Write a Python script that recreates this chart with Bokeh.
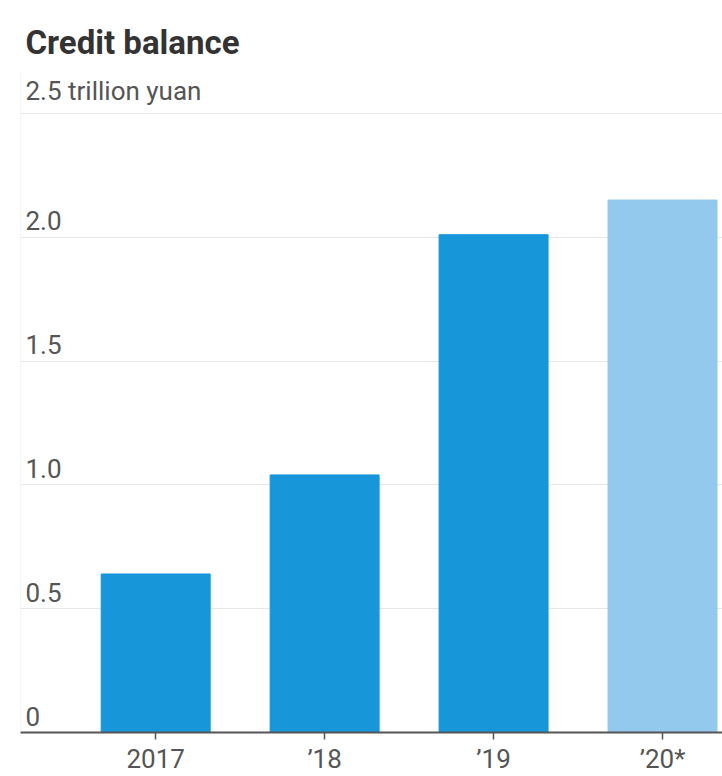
from bokeh.plotting import figure
from bokeh.models import FixedTicker, Title, ColumnDataSource, Span
from bokeh.core.properties import value
from bokeh.embed import file_html
from bokeh.resources import INLINE

categories = ["2017", "’18", "’19", "’20*"]
balance = [0.64, 1.04, 2.01, 2.15]
bar_colors = ["#1796da", "#1796da", "#1796da", "#93c9ec"]
y_ticks = [0, 0.5, 1.0, 1.5, 2.0, 2.5]
y_tick_labels = ["0", "0.5", "1.0", "1.5", "2.0", "2.5 trillion yuan"]

FONT = "Roboto"
xs = list(range(len(categories)))

p = figure(width=722, height=776, output_backend="svg", toolbar_location=None,
           x_range=(-0.8, 3.355), y_range=(0, 2.673),
           min_border_left=20, min_border_right=0, min_border_top=70,
           min_border_bottom=43)
p.background_fill_color = "white"
p.border_fill_color = "white"
p.outline_line_color = None

t = Title(text="Credit balance", align="left", offset=5,
          text_font=FONT, text_font_size="33px", text_font_style="bold",
          text_color="#333333", standoff=18)
p.add_layout(t, "above")

src = ColumnDataSource(dict(x=xs, top=balance, color=bar_colors))
p.vbar(x="x", top="top", width=0.645, bottom=0, color="color", source=src)

# y axis hidden, labels drawn inside plot
p.yaxis.visible = False
p.ygrid.ticker = FixedTicker(ticks=y_ticks[1:])
p.ygrid.grid_line_color = "#e6e6e6"
p.ygrid.grid_line_width = 1
p.xgrid.visible = False

lab = ColumnDataSource(dict(x=[-0.8] * len(y_ticks), y=y_ticks, t=y_tick_labels))
p.text(x="x", y="y", text="t", source=lab, x_offset=5, y_offset=-7,
       text_baseline="bottom", text_align="left", text_color="#555555",
       text_font=value(FONT), text_font_size="26px")

p.add_layout(Span(location=-0.8, dimension="height", line_color="#ececec", line_width=1))

p.xaxis.ticker = FixedTicker(ticks=xs)
p.xaxis.major_label_overrides = {i: c for i, c in enumerate(categories)}
p.xaxis.axis_line_color = "#555555"
p.xaxis.axis_line_width = 2
p.xaxis.major_tick_line_color = "#555555"
p.xaxis.major_tick_line_width = 1.5
p.xaxis.major_tick_out = 7
p.xaxis.major_tick_in = 0
p.xaxis.minor_tick_line_color = None
p.xaxis.major_label_text_font = FONT
p.xaxis.major_label_text_font_size = "26px"
p.xaxis.major_label_text_color = "#555555"
p.xaxis.major_label_standoff = 4

open("out.html", "w").write(file_html(p, INLINE))
